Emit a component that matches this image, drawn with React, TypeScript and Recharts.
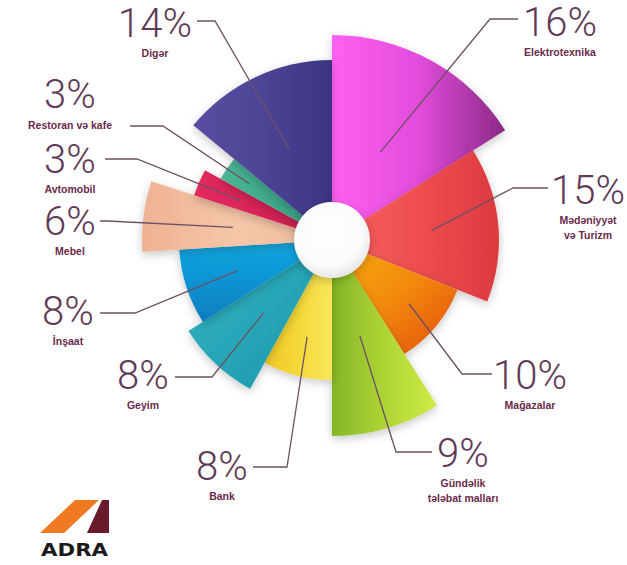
import React from 'react';
import { PieChart, Pie, Cell } from 'recharts';

// sector order, clockwise from 12 o'clock
const categories = [
  'Elektrotexnika',
  'Mədəniyyət və Turizm',
  'Mağazalar',
  'Gündəlik tələbat malları',
  'Bank',
  'Geyim',
  'İnşaat',
  'Mebel',
  'Avtomobil',
  'Restoran və kafe',
  'Digər',
];
const shares = [16, 15, 10, 9, 8, 8, 8, 6, 3, 3, 14];
const captions = [
  ['Elektrotexnika'],
  ['Mədəniyyət', 'və Turizm'],
  ['Mağazalar'],
  ['Gündəlik', 'tələbat malları'],
  ['Bank'],
  ['Geyim'],
  ['İnşaat'],
  ['Mebel'],
  ['Avtomobil'],
  ['Restoran və kafe'],
  ['Digər'],
];

const rows = categories.map((name, i) => ({ name, value: shares[i] }));

// styling
const radius = [205, 167, 135, 196, 140, 170, 153, 190, 145, 127, 180];
const gradients = [
  { id: 'g0', x2: 1, y2: 0, stops: ['#ff60f2', '#e24cdc', '#8a2a86'] },
  { id: 'g1', x2: 1, y2: 0, stops: ['#f4615b', '#ef4f50', '#dc3a40'] },
  { id: 'g2', x2: 1, y2: 1, stops: ['#f7ac06', '#f38a0a', '#e24c12'] },
  { id: 'g3', x2: 1, y2: 0, stops: ['#84b627', '#aed535', '#cdec45'] },
  { id: 'g4', x2: 1, y2: 0, stops: ['#f0c825', '#f4d838', '#f9e75a'] },
  { id: 'g5', x2: 1, y2: 1, stops: ['#36b6c2', '#27a6b6', '#1c93a8'] },
  { id: 'g6', x2: 0, y2: 1, stops: ['#14a9e0', '#0c93d2', '#0a7dbd'] },
  { id: 'g7', x2: 1, y2: 0, stops: ['#eeb293', '#f5c6a8', '#f0bb9c'] },
  { id: 'g8', x2: 1, y2: 0, stops: ['#e12a5e', '#d62356', '#c51d4d'] },
  { id: 'g9', x2: 1, y2: 0, stops: ['#48b594', '#3ea889', '#359a7e'] },
  { id: 'g10', x2: 1, y2: 0, stops: ['#594ea1', '#4c4496', '#3a3580'] },
];

// label layout: percentage centre/baseline, caption baseline, elbow and end of the leader
const labelPos = [
  { x: 560, y: 36, cy: 56, elbow: [490, 19], end: [518, 19] },
  { x: 588, y: 204, cy: 224, elbow: [513, 188], end: [548, 188] },
  { x: 530, y: 389, cy: 409, elbow: [462, 374], end: [492, 374] },
  { x: 463, y: 467, cy: 487, elbow: [396, 452], end: [432, 452] },
  { x: 222, y: 480, cy: 500, elbow: [287, 467], end: [253, 467] },
  { x: 143, y: 389, cy: 409, elbow: [212, 377], end: [175, 377] },
  { x: 68, y: 325, cy: 345, elbow: [135, 313], end: [100, 313] },
  { x: 70, y: 235, cy: 255, elbow: [108, 221], end: [100, 221] },
  { x: 70, y: 173, cy: 193, elbow: [137, 159], end: [105, 159] },
  { x: 70, y: 108, cy: 129, elbow: [163, 126], end: [130, 126] },
  { x: 155, y: 37, cy: 57, elbow: [215, 21], end: [197, 21] },
];

const CX = 332;
const CY = 240;
const LEADER_R = 100;
const RAD = Math.PI / 180;
const pctColor = '#5f3b57';
const capColor = '#6b2a4c';
const lineColor = '#6e5066';

const renderLabel = (props: any) => {
  const { cx, cy, midAngle, index } = props;
  const p = labelPos[index];
  const sx = cx + LEADER_R * Math.cos(-midAngle * RAD);
  const sy = cy + LEADER_R * Math.sin(-midAngle * RAD);
  return (
    <g key={`lbl-${index}`}>
      <polyline
        points={`${sx},${sy} ${p.elbow[0]},${p.elbow[1]} ${p.end[0]},${p.end[1]}`}
        fill="none"
        stroke={lineColor}
        strokeWidth={1.3}
      />
      <text
        x={p.x}
        y={p.y}
        textAnchor="middle"
        fill={pctColor}
        style={{ fontFamily: 'Roboto, "Open Sans", sans-serif', fontWeight: 300, fontSize: 40 }}
      >
        {`${shares[index]}%`}
      </text>
      {captions[index].map((line, j) => (
        <text
          key={j}
          x={p.x}
          y={p.cy + j * 15}
          textAnchor="middle"
          fill={capColor}
          style={{ fontFamily: '"Liberation Sans", Arial, sans-serif', fontWeight: 700, fontSize: 10.5 }}
        >
          {line}
        </text>
      ))}
    </g>
  );
};

const Logo = () => (
  <svg width={627} height={565} style={{ position: 'absolute', left: 0, top: 0, pointerEvents: 'none' }}>
    <polygon points="40,533 64,533 99,500 75,500" fill="#f07a22" />
    <polygon points="87,533 109,533 109,500 102,500" fill="#6a1a2c" />
    <text
      x={41}
      y={556}
      textLength={67}
      lengthAdjust="spacingAndGlyphs"
      fill="#1a1a1a"
      style={{ fontFamily: '"DejaVu Sans", sans-serif', fontWeight: 700, fontSize: 17 }}
    >
      ADRA
    </text>
  </svg>
);

const App: React.FC = () => {
  return (
    <div style={{ position: 'absolute', left: 0, top: 0, width: 627, height: 565, background: '#fff' }}>
      <PieChart width={627} height={565} margin={{ top: 0, right: 0, bottom: 0, left: 0 }}>
        <defs>
          {gradients.map((g) => (
            <linearGradient key={g.id} id={g.id} x1="0" y1="0" x2={g.x2} y2={g.y2}>
              <stop offset="0%" stopColor={g.stops[0]} />
              <stop offset="50%" stopColor={g.stops[1]} />
              <stop offset="100%" stopColor={g.stops[2]} />
            </linearGradient>
          ))}
          <radialGradient id="ball" cx="0.45" cy="0.4" r="0.6">
            <stop offset="0%" stopColor="#ffffff" />
            <stop offset="75%" stopColor="#fbfbfb" />
            <stop offset="100%" stopColor="#e6e6e6" />
          </radialGradient>
          <filter id="shadow" x="-30%" y="-30%" width="160%" height="160%">
            <feDropShadow dx="0" dy="3" stdDeviation="5" floodColor="#000" floodOpacity="0.22" />
          </filter>
        </defs>
        {rows.map((_, k) => (
          <Pie
            key={`slice-${k}`}
            data={rows}
            dataKey="value"
            nameKey="name"
            cx={CX}
            cy={CY}
            innerRadius={0}
            outerRadius={radius[k]}
            startAngle={90}
            endAngle={-270}
            stroke="none"
            isAnimationActive={false}
          >
            {rows.map((r, i) => (
              <Cell
                key={`c-${k}-${i}`}
                fill={i === k ? `url(#${gradients[i].id})` : 'none'}
                stroke="none"
                filter={i === k ? 'url(#shadow)' : undefined}
              />
            ))}
          </Pie>
        ))}
        <Pie
          data={[{ name: 'centre', value: 1 }]}
          dataKey="value"
          cx={CX}
          cy={CY}
          innerRadius={0}
          outerRadius={38}
          stroke="none"
          fill="url(#ball)"
          isAnimationActive={false}
        >
          <Cell fill="url(#ball)" filter="url(#shadow)" />
        </Pie>
        <Pie
          data={rows}
          dataKey="value"
          nameKey="name"
          cx={CX}
          cy={CY}
          innerRadius={0}
          outerRadius={LEADER_R}
          startAngle={90}
          endAngle={-270}
          fill="none"
          stroke="none"
          label={renderLabel}
          labelLine={false}
          isAnimationActive={false}
        >
          {rows.map((r, i) => (
            <Cell key={`l-${i}`} fill="none" stroke="none" />
          ))}
        </Pie>
      </PieChart>
      <Logo />
    </div>
  );
};

export default App;
